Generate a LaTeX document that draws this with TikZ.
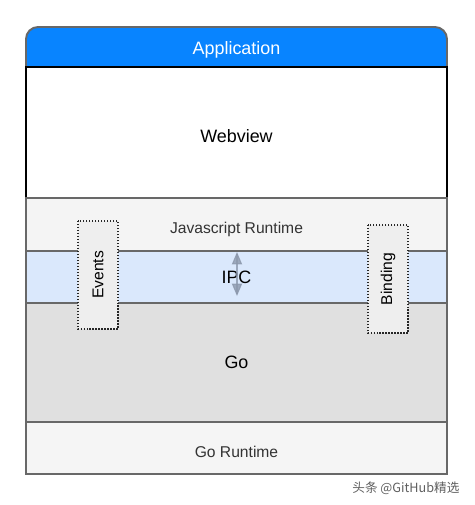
\documentclass[tikz,border=0pt]{standalone}
\usepackage{fontspec}
\setmainfont{Liberation Sans}
\newfontfamily\cjkfont{Noto Sans CJK SC}
\usepackage{tikz}
\usetikzlibrary{shapes,arrows}

\definecolor{appblue}{RGB}{8,132,255}
\definecolor{edgegray}{RGB}{104,104,104}
\definecolor{jsgray}{RGB}{244,244,244}
\definecolor{ipcblue}{RGB}{218,232,252}
\definecolor{gogray}{RGB}{224,224,224}
\definecolor{rtgray}{RGB}{245,245,245}
\definecolor{boxgray}{RGB}{238,238,238}
\definecolor{arrowgray}{RGB}{140,152,172}
\definecolor{markgray}{RGB}{95,95,95}

\newcommand{\bigtext}{\fontsize{10.2}{12}\selectfont}
\newcommand{\smalltext}{\fontsize{8.9}{11}\selectfont}

\begin{document}
\begin{tikzpicture}[x=0.02cm,y=-0.02cm,auto,thick,>=triangle 45,
    layer/.style={draw=edgegray,line width=1.1pt,minimum width=8.42cm,inner sep=0pt,outer sep=0pt},
    sidebox/.style={draw=black!85,densely dotted,line width=0.7pt,fill=boxgray,rotate=90,
        minimum width=2.16cm,minimum height=0.8cm,inner sep=0pt,font=\smalltext}]
\useasboundingbox (0,0) rectangle (475,505);

\draw[fill=appblue,draw=edgegray,line width=1.1pt,rounded corners=0.24cm] (26,27) rectangle (447,90);
\draw
    node at (236.5,47)[text=white,font=\bigtext,text height=0.89em,text depth=0pt,name=app]{Application}
    node at (236.5,132.5)[layer,draw=black,line width=1.4pt,fill=white,minimum height=2.62cm,font=\bigtext,text height=1.12em,text depth=0pt,name=web]{Webview}
    node at (236.5,224.5)[layer,fill=jsgray,minimum height=1.06cm,font=\smalltext,text=black!80,text height=1.02em,text depth=0pt,name=jsrt]{Javascript Runtime}
    node at (236.5,277)[layer,fill=ipcblue,minimum height=1.04cm,font=\bigtext,name=ipc]{IPC}
    node at (236.5,362.5)[layer,fill=gogray,minimum height=2.38cm,font=\bigtext,name=go]{Go}
    node at (236.5,448)[layer,fill=rtgray,minimum height=1.04cm,font=\smalltext,text=black!80,text height=1.1em,text depth=0pt,name=gort]{Go Runtime}

    node at (98,275)[sidebox,name=events]{Events}
    node at (388,279)[sidebox,name=binding]{Binding}

    node at (466,488)[anchor=east,text=markgray,font=\fontsize{7.2}{9}\selectfont,name=mark]{\cjkfont 头条 @GitHub精选}
;

    \coordinate (ipctop) at (237,252);
    \coordinate (ipcbot) at (237,296);
    \draw[<->,draw=arrowgray,line width=0.6pt,opacity=0.8](ipctop) -- (ipcbot);
\end{tikzpicture}
\end{document}
